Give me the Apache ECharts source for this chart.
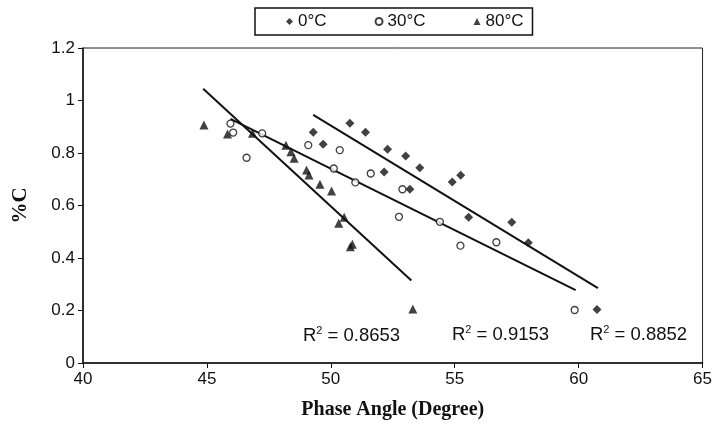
<!DOCTYPE html>
<html>
<head>
<meta charset="utf-8">
<script src="https://cdn.jsdelivr.net/npm/echarts@6/dist/echarts.min.js"></script>
<style>
  html, body { margin: 0; padding: 0; background: #fff; }
  #chart { width: 715px; height: 426px; }
</style>
</head>
<body>
<div id="chart"></div>
<script>
// 数据点 (phase angle, %C)
var data0 = [
  [49.29, 0.879], [49.69, 0.833], [50.77, 0.913], [51.40, 0.879], [52.15, 0.728],
  [52.29, 0.814], [53.02, 0.789], [53.19, 0.662], [53.59, 0.744], [54.90, 0.690],
  [55.24, 0.715], [55.56, 0.555], [57.30, 0.536], [57.97, 0.458], [60.74, 0.204]
];
var data30 = [
  [45.95, 0.912], [46.06, 0.878], [46.60, 0.782], [47.23, 0.875], [49.09, 0.830],
  [50.12, 0.741], [50.36, 0.811], [50.99, 0.688], [51.61, 0.722], [52.75, 0.557],
  [52.89, 0.662], [54.40, 0.538], [55.23, 0.447], [56.68, 0.460], [59.84, 0.202]
];
var data80 = [
  [44.88, 0.907], [45.83, 0.872], [46.84, 0.875], [48.19, 0.830], [48.39, 0.805],
  [48.52, 0.780], [49.02, 0.735], [49.12, 0.716], [49.56, 0.681], [50.03, 0.655],
  [50.32, 0.532], [50.54, 0.555], [50.79, 0.443], [50.87, 0.452], [53.31, 0.206]
];
// 趋势线端点
var trend0 = [[49.29, 0.945], [60.78, 0.285]];
var trend30 = [[45.95, 0.930], [59.88, 0.278]];
var trend80 = [[44.85, 1.045], [53.25, 0.314]];
var r2Labels = ["0.8653", "0.9153", "0.8852"];

var chart = echarts.init(document.getElementById("chart"));

function trendLine(d) {
  return {
    type: "line",
    data: d,
    symbol: "none",
    silent: true,
    lineStyle: { color: "#111", width: 2 },
    z: 1
  };
}

//R²标签
function r2Text(x, y, v) {
  return {
    type: "text",
    left: x,
    top: y,
    style: {
      text: "{r|R}{s|2}{r| = " + v + "}",
      rich: {
        r: { fontFamily: "Liberation Sans, Arial", fontSize: 18.5, fill: "#111", verticalAlign: "bottom" },
        s: { fontFamily: "Liberation Sans, Arial", fontSize: 11, fill: "#111", verticalAlign: "top", padding: [0, 0, 9, 0] }
      }
    }
  };
}

var option = {
  backgroundColor: "#fff",
  animation: false,
  grid: {
    left: 83, right: 12, top: 48, bottom: 63,
    show: true, borderColor: "#222", borderWidth: 1
  },
  legend: {
    left: 255, top: 8,
    data: ["0°C", "30°C", "80°C"],
    borderColor: "#111", borderWidth: 1.5,
    padding: [5, 9, 5, 31],
    itemGap: 48, itemWidth: 7, itemHeight: 7,
    textStyle: { fontFamily: "Liberation Sans, Arial", fontSize: 17, color: "#111" }
  },
  xAxis: {
    type: "value", min: 40, max: 65, interval: 5,
    name: "Phase Angle (Degree)", nameLocation: "middle", nameGap: 37,
    nameTextStyle: { fontFamily: "Liberation Serif, Times New Roman", fontWeight: "bold", fontSize: 20, color: "#111" },
    axisLine: { lineStyle: { color: "#111", width: 1.5 } },
    axisTick: { show: true, length: 5, lineStyle: { color: "#111" } },
    axisLabel: { fontFamily: "Liberation Sans, Arial", fontSize: 17, color: "#111", margin: 8 },
    splitLine: { show: false }
  },
  yAxis: {
    type: "value", min: 0, max: 1.2, interval: 0.2,
    name: "%C", nameLocation: "middle", nameGap: 52,
    nameTextStyle: { fontFamily: "Liberation Serif, Times New Roman", fontWeight: "bold", fontSize: 21, color: "#111" },
    axisLine: { show: true, lineStyle: { color: "#111", width: 1.5 } },
    axisTick: { show: true, length: 5, lineStyle: { color: "#111" } },
    axisLabel: { fontFamily: "Liberation Sans, Arial", fontSize: 17, color: "#111", margin: 8 },
    splitLine: { show: false }
  },
  series: [
    {
      name: "0°C", type: "scatter", data: data0,
      symbol: "diamond", symbolSize: 9,
      itemStyle: { color: "#111" }, z: 3
    },
    {
      name: "30°C", type: "scatter", data: data30,
      symbol: "circle", symbolSize: 7,
      itemStyle: { color: "#fff", borderColor: "#111", borderWidth: 1.3 }, z: 3
    },
    {
      name: "80°C", type: "scatter", data: data80,
      symbol: "triangle", symbolSize: 9,
      itemStyle: { color: "#111" }, z: 3
    },
    trendLine(trend0),
    trendLine(trend30),
    trendLine(trend80)
  ],
  graphic: [
    r2Text(303, 325, r2Labels[0]),
    r2Text(452, 324, r2Labels[1]),
    r2Text(590, 324, r2Labels[2])
  ]
};

chart.setOption(option);
</script>
</body>
</html>
